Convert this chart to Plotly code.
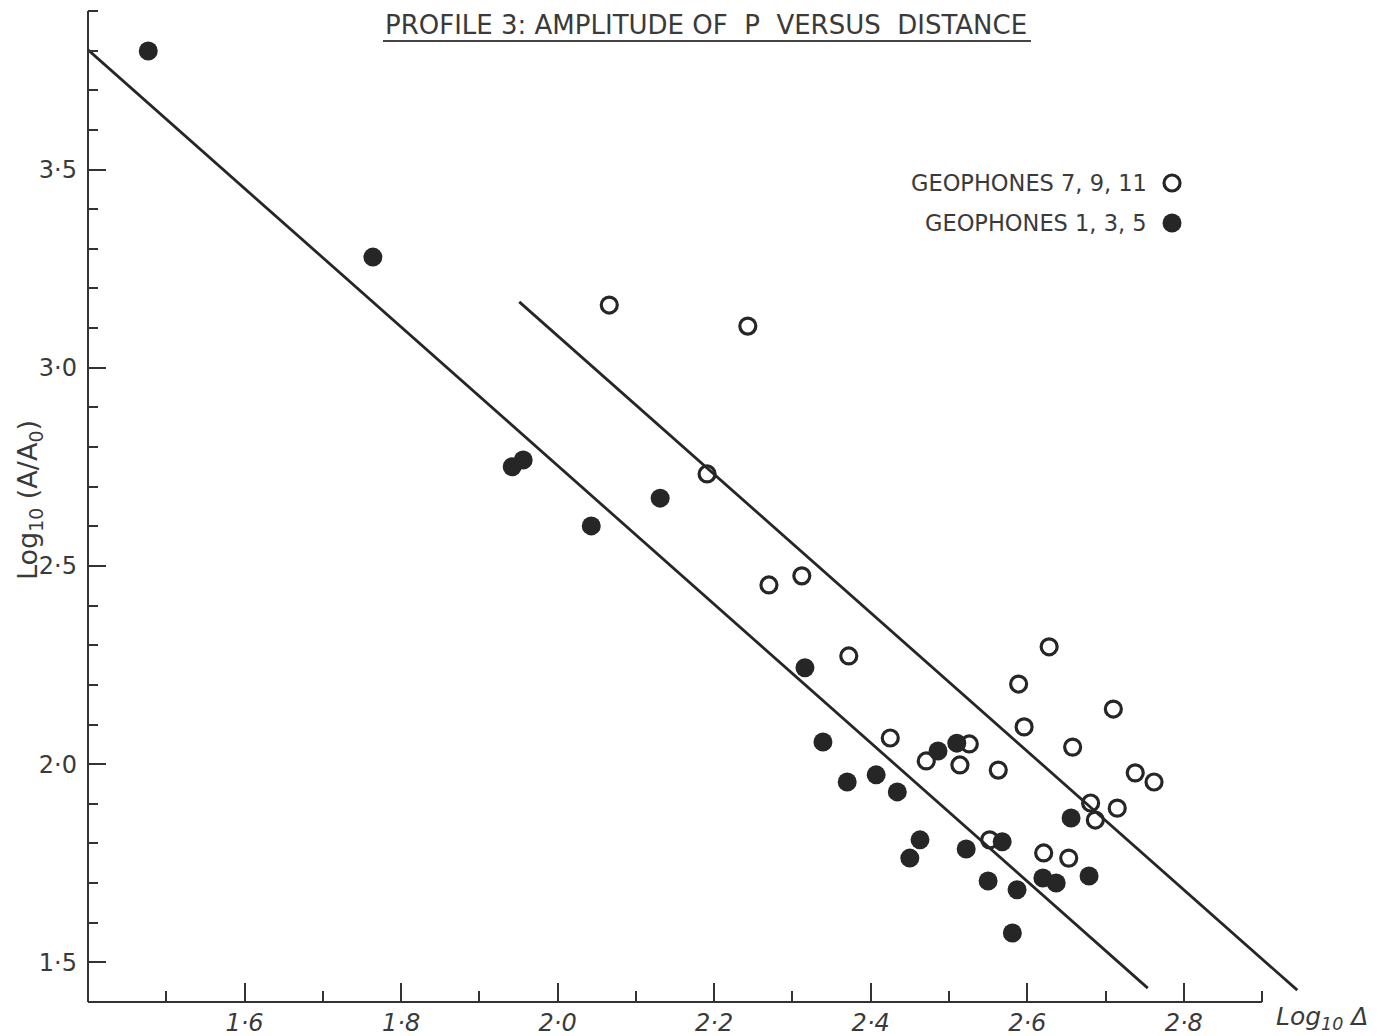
import plotly.graph_objects as go

# Geophones 1, 3, 5 (filled symbols)
near_log_dist = [1.477, 1.764, 1.942, 1.956, 2.043, 2.131, 2.316, 2.339, 2.370, 2.407,
                 2.434, 2.463, 2.450, 2.486, 2.510, 2.522, 2.550, 2.568, 2.587, 2.581,
                 2.620, 2.637, 2.656, 2.679]
near_log_amp = [3.799, 3.279, 2.750, 2.767, 2.601, 2.671, 2.243, 2.056, 1.955, 1.973,
                1.930, 1.809, 1.763, 2.033, 2.053, 1.786, 1.705, 1.804, 1.683, 1.574,
                1.713, 1.700, 1.864, 1.718]

# Geophones 7, 9, 11 (open symbols)
far_log_dist = [2.066, 2.243, 2.191, 2.270, 2.312, 2.372, 2.425, 2.471, 2.514, 2.526,
                2.563, 2.552, 2.589, 2.596, 2.628, 2.621, 2.658, 2.653, 2.681, 2.687,
                2.710, 2.715, 2.738, 2.762]
far_log_amp = [3.158, 3.105, 2.732, 2.452, 2.475, 2.273, 2.066, 2.008, 1.998, 2.051,
               1.985, 1.809, 2.202, 2.094, 2.296, 1.776, 2.043, 1.763, 1.902, 1.859,
               2.139, 1.889, 1.978, 1.955]

# Fitted straight lines (end points)
fit_near_x = [1.400, 2.754]
fit_near_y = [3.802, 1.435]
fit_far_x = [1.951, 2.945]
fit_far_y = [3.166, 1.430]

# Axis ticks
x_major = [1.6, 1.8, 2.0, 2.2, 2.4, 2.6, 2.8]
x_major_text = ["1·6", "1·8", "2·0", "2·2", "2·4", "2·6", "2·8"]
x_minor = [1.5, 1.7, 1.9, 2.1, 2.3, 2.5, 2.7, 2.9]
y_major = [1.5, 2.0, 2.5, 3.0, 3.5]
y_major_text = ["1·5", "2·0", "2·5", "3·0", "3·5"]
y_minor = [1.6, 1.7, 1.8, 1.9, 2.1, 2.2, 2.3, 2.4, 2.6, 2.7, 2.8, 2.9,
           3.1, 3.2, 3.3, 3.4, 3.6, 3.7, 3.8, 3.9]

# Legend keys
legend_labels = ["GEOPHONES 7, 9, 11", "GEOPHONES 1, 3, 5"]
legend_key_x = [2.785, 2.785]
legend_key_y = [3.466, 3.365]

INK = "#262626"
TEXT = "#3a3a3a"
FONT = "DejaVu Sans"

fig = go.Figure()

fig.add_trace(go.Scatter(x=fit_near_x, y=fit_near_y, mode="lines",
                         line=dict(color=INK, width=2.8), showlegend=False, hoverinfo="skip"))
fig.add_trace(go.Scatter(x=fit_far_x, y=fit_far_y, mode="lines",
                         line=dict(color=INK, width=2.8), showlegend=False, hoverinfo="skip"))

fig.add_trace(go.Scatter(x=far_log_dist, y=far_log_amp, mode="markers", name=legend_labels[0],
                         marker=dict(symbol="circle-open", size=16, color=INK,
                                     line=dict(width=3.2, color=INK)),
                         showlegend=False, cliponaxis=False))
fig.add_trace(go.Scatter(x=near_log_dist, y=near_log_amp, mode="markers", name=legend_labels[1],
                         marker=dict(symbol="circle", size=19, color=INK, line=dict(width=0)),
                         showlegend=False, cliponaxis=False))

# legend keys drawn beside the right-aligned labels
fig.add_trace(go.Scatter(x=[legend_key_x[0]], y=[legend_key_y[0]], mode="markers",
                         marker=dict(symbol="circle-open", size=16, color=INK,
                                     line=dict(width=3.2, color=INK)),
                         showlegend=False, hoverinfo="skip"))
fig.add_trace(go.Scatter(x=[legend_key_x[1]], y=[legend_key_y[1]], mode="markers",
                         marker=dict(symbol="circle", size=19, color=INK, line=dict(width=0)),
                         showlegend=False, hoverinfo="skip"))

for label, ky in zip(legend_labels, legend_key_y):
    fig.add_annotation(x=legend_key_x[0] - 0.030, y=ky, xref="x", yref="y",
                       text=label, showarrow=False, xanchor="right", yanchor="middle",
                       font=dict(family=FONT, size=22.5, color=TEXT))

# axis lines
fig.add_shape(type="line", xref="x", yref="paper", x0=1.4, x1=2.9, y0=0, y1=0,
              line=dict(color="#333", width=2))
fig.add_shape(type="line", xref="paper", yref="y", x0=0, x1=0, y0=1.4, y1=3.9,
              line=dict(color="#333", width=2))

# title with underline
fig.add_annotation(x=0.506, y=0.978, xref="paper", yref="paper",
                   text="PROFILE 3: AMPLITUDE OF\u00a0\u00a0P\u00a0\u00a0VERSUS\u00a0\u00a0DISTANCE",
                   showarrow=False, xanchor="center", yanchor="middle",
                   font=dict(family=FONT, size=26, color=TEXT))
fig.add_shape(type="line", xref="paper", yref="paper", x0=0.2416, x1=0.7723,
              y0=0.962, y1=0.962, line=dict(color="#444", width=2))

# axis titles
fig.add_annotation(x=-0.0483, y=0.5025, xref="paper", yref="paper",
                   text="Log<sub>10</sub> (A/A<sub>0</sub>)", textangle=-90,
                   xanchor="center", yanchor="middle",
                   showarrow=False, font=dict(family=FONT, size=27, color=TEXT))
fig.add_annotation(x=1.0106, y=-0.016, xref="paper", yref="paper",
                   text="<i>Log<sub>10</sub> Δ</i>", showarrow=False,
                   xanchor="center", yanchor="middle",
                   font=dict(family=FONT, size=25, color=TEXT))

fig.update_xaxes(range=[1.4, 2.96], showgrid=False, zeroline=False, showline=False,
                 tickmode="array", tickvals=x_major, ticktext=x_major_text,
                 ticks="inside", ticklen=19, tickwidth=1.6, tickcolor="#333",
                 tickfont=dict(family=FONT, size=24, color=TEXT, style="italic"),
                 ticklabelstandoff=4,
                 minor=dict(tickmode="array", tickvals=x_minor, ticks="inside",
                            ticklen=11, tickwidth=1.6, tickcolor="#333", showgrid=False))
fig.update_yaxes(range=[1.4, 3.92], showgrid=False, zeroline=False, showline=False,
                 tickmode="array", tickvals=y_major, ticktext=y_major_text,
                 ticks="inside", ticklen=18, tickwidth=1.6, tickcolor="#333",
                 tickfont=dict(family=FONT, size=24, color=TEXT),
                 ticklabelstandoff=10,
                 minor=dict(tickmode="array", tickvals=y_minor, ticks="inside",
                            ticklen=10, tickwidth=1.6, tickcolor="#333", showgrid=False))

fig.update_layout(width=1379, height=1036, autosize=False,
                  margin=dict(l=88, r=70, t=3, b=34, autoexpand=False),
                  paper_bgcolor="white", plot_bgcolor="white", showlegend=False)

fig.write_html("out.html")
